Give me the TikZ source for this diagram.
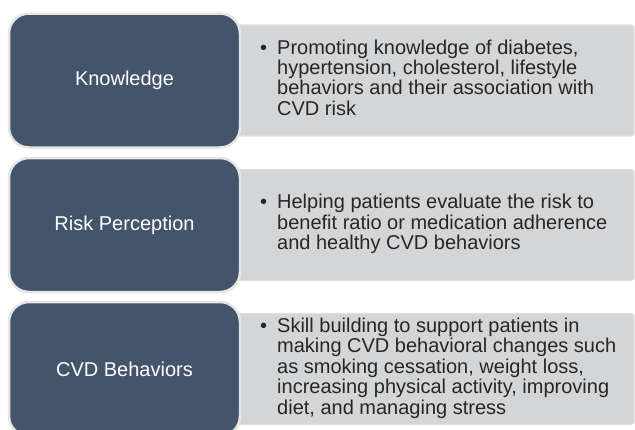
\documentclass[tikz,border=0pt]{standalone}
\usepackage{fontspec}
\setmainfont{Liberation Sans}
\usepackage{array}
\definecolor{slate}{HTML}{44546A}
\definecolor{panel}{HTML}{D4D5D7}
\definecolor{rim}{HTML}{E6E6E6}
\definecolor{panelrim}{HTML}{E0E1E2}
\definecolor{ink}{HTML}{262626}
\tikzset{
  catbox/.style={rounded corners=20pt, fill=slate, draw=rim, line width=2.5pt,
    minimum width=231pt, minimum height=134pt, inner sep=0pt,
    text=white, font=\fontsize{20}{24}\selectfont},
  panelbox/.style={rounded corners=3pt, fill=panel, draw=panelrim, line width=1.2pt,
    minimum width=434pt, minimum height=111pt, inner sep=0pt},
  desc/.style={anchor=west, inner sep=0pt, text=ink, font=\fontsize{20}{19.6}\selectfont}
}
\newcommand{\bulletlines}[1]{%
  \begin{tabular}{@{}p{17pt}@{}l@{}}\textbullet & #1\end{tabular}}
\begin{document}
\begin{tikzpicture}[x=1pt,y=1pt]
\useasboundingbox (0,0) rectangle (635,-429);
\clip (0,0) rectangle (635,-429);

% grey description panels (tucked under the category boxes)
\node[panelbox] (kp) at (417,-80.5) {};
\node[panelbox] (rp) at (417,-225) {};
\node[panelbox] (bp) at (417,-369) {};

% category boxes
\node[catbox] (k) at (124.5,-80.5) {Knowledge};
\node[catbox] (r) at (124.5,-225) {Risk Perception};
\node[catbox] (b) at (124.5,-369) {CVD Behaviors};

% descriptions
\node[desc] (kt) at (260,-80.5) {\bulletlines{Promoting knowledge of diabetes,\\
  & hypertension, cholesterol, lifestyle\\
  & behaviors and their association with\\
  & CVD risk}};
\node[desc] (rt) at (260,-225) {\bulletlines{Helping patients evaluate the risk to\\
  & benefit ratio or medication adherence\\
  & and healthy CVD behaviors}};
\node[desc] (bt) at (260,-369) {\bulletlines{Skill building to support patients in\\
  & making CVD behavioral changes such\\
  & as smoking cessation, weight loss,\\
  & increasing physical activity, improving\\
  & diet, and managing stress}};
\end{tikzpicture}
\end{document}
